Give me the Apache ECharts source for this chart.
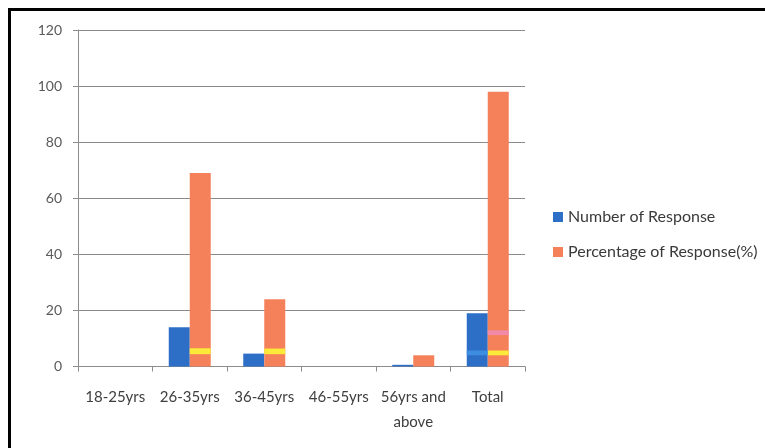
<!DOCTYPE html>
<html>
<head>
<meta charset="utf-8">
<title>Response by age group</title>
<script src="https://cdn.jsdelivr.net/npm/echarts@6/dist/echarts.min.js"></script>
<style>
  html, body { margin: 0; padding: 0; background: #fff; }
  #chart { position: absolute; left: 0; top: 0; width: 765px; height: 448px; }
  #frame {
    position: absolute; left: 8px; top: 8px; right: 0; bottom: 0;
    border-left: 3px solid #000; border-top: 3px solid #000;
    pointer-events: none;
  }
</style>
</head>
<body>
<div id="chart"></div>
<div id="frame"></div>
<script>
// Age groups on the category axis
const categories = ['18-25yrs', '26-35yrs', '36-45yrs', '46-55yrs', '56yrs and\nabove', 'Total'];

// Series values
const numberOfResponse = [0, 14, 4.6, 0, 0.6, 19];
const percentageOfResponse = [0, 69, 24, 0, 4, 98];

// Value-axis ticks
const yTicks = [0, 20, 40, 60, 80, 100, 120];

// Thin coloured bands printed across some bars: [category, slot, from, to]
// slot 0 = Number of Response bar, slot 1 = Percentage bar
const yellowBands = [[1, 1, 4.4, 6.5], [2, 1, 4.4, 6.4], [5, 1, 4.0, 5.7]];
const pinkBands = [[5, 1, 11.2, 12.9]];
const lightBlueBands = [[5, 0, 4.0, 5.7]];

const BAR_W = 21;
const FONT = 'Lato, "Open Sans", sans-serif';

function bandSeries(name, data, color) {
  return {
    type: 'custom',
    name: name,
    silent: true,
    z: 5,
    data: data,
    encode: { x: 0, y: [2, 3] },
    renderItem: function (params, api) {
      const cat = api.value(0);
      const slot = api.value(1);
      const lo = api.coord([cat, api.value(2)]);
      const hi = api.coord([cat, api.value(3)]);
      const x = lo[0] + (slot === 0 ? -BAR_W : 0);
      return {
        type: 'rect',
        shape: { x: x, y: hi[1], width: BAR_W, height: lo[1] - hi[1] },
        style: { fill: color }
      };
    }
  };
}

const chart = echarts.init(document.getElementById('chart'), null, { renderer: 'canvas' });

chart.setOption({
  animation: false,
  backgroundColor: '#fff',
  textStyle: { fontFamily: FONT },
  grid: { left: 78, right: 240, top: 30, bottom: 81.5, containLabel: false },
  legend: {
    orient: 'vertical',
    left: 548,
    top: 202,
    itemWidth: 10,
    itemHeight: 10,
    itemGap: 15,
    icon: 'rect',
    data: ['Number of Response', 'Percentage of Response(%)'],
    textStyle: { fontFamily: FONT, fontSize: 16, color: '#3a3a3a', lineHeight: 20 }
  },
  xAxis: {
    type: 'category',
    data: categories,
    axisLine: { lineStyle: { color: '#8c8c8c', width: 1 } },
    axisTick: { show: true, length: 5, lineStyle: { color: '#8c8c8c' } },
    axisLabel: {
      interval: 0,
      margin: 18,
      fontFamily: FONT,
      fontSize: 15,
      lineHeight: 25,
      color: '#3e3e3e'
    }
  },
  yAxis: {
    type: 'value',
    min: yTicks[0],
    max: yTicks[yTicks.length - 1],
    interval: yTicks[1] - yTicks[0],
    axisLine: { show: true, lineStyle: { color: '#8c8c8c', width: 1 } },
    axisTick: { show: true, length: 5, lineStyle: { color: '#8c8c8c' } },
    axisLabel: { margin: 16, fontFamily: FONT, fontSize: 14, color: '#5a5a5a' },
    splitLine: { show: true, lineStyle: { color: '#8a8a8a', width: 1 } }
  },
  series: [
    {
      name: 'Number of Response',
      type: 'bar',
      data: numberOfResponse,
      barWidth: BAR_W,
      barGap: '0%',
      itemStyle: { color: '#2d6fc6' }
    },
    {
      name: 'Percentage of Response(%)',
      type: 'bar',
      data: percentageOfResponse,
      barWidth: BAR_W,
      barGap: '0%',
      itemStyle: { color: '#f5815a' }
    },
    bandSeries('yellow band', yellowBands, '#fbea3a'),
    bandSeries('pink band', pinkBands, '#f08aa8'),
    bandSeries('light band', lightBlueBands, '#3d8ee0')
  ]
});
</script>
</body>
</html>
